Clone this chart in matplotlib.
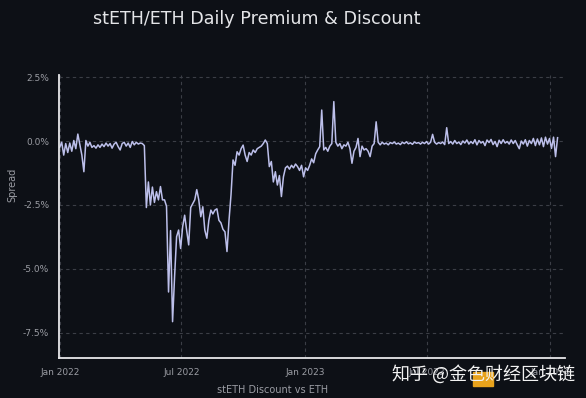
import numpy as np
import pandas as pd
import matplotlib
matplotlib.use('Agg')
import matplotlib.pyplot as plt
import matplotlib.dates as mdates
from matplotlib.patches import Rectangle

spread = [
    -0.25, -0.05, -0.55, -0.10, -0.45, -0.08, -0.40, 0.02, -0.30, 0.27,
    -0.15, -0.55, -1.20, 0.02, -0.20, -0.05, -0.25, -0.18, -0.28, -0.15,
    -0.25, -0.12, -0.22, -0.08, -0.20, -0.10, -0.28, -0.12, -0.05, -0.22,
    -0.35, -0.10, -0.05, -0.20, -0.08, -0.25, -0.02, -0.15, -0.05, -0.12,
    -0.08, -0.10, -0.18, -2.60, -1.60, -2.50, -1.80, -2.40, -1.98, -2.30,
    -1.78, -2.30, -2.30, -2.55, -5.90, -3.50, -7.06, -5.30, -3.74, -3.48,
    -4.20, -3.35, -2.90, -3.50, -4.06, -2.60, -2.45, -2.30, -1.90, -2.30,
    -2.96, -2.57, -3.48, -3.80, -3.10, -2.70, -2.85, -2.70, -2.65, -3.10,
    -3.20, -3.45, -3.55, -4.32, -3.10, -2.10, -0.74, -0.95, -0.42, -0.55,
    -0.30, -0.16, -0.55, -0.80, -0.45, -0.55, -0.35, -0.45, -0.30, -0.25,
    -0.20, -0.10, 0.04, -0.10, -1.00, -0.80, -1.60, -1.20, -1.72, -1.35,
    -2.17, -1.40, -1.05, -0.98, -1.10, -0.95, -1.05, -0.90, -1.00, -1.15,
    -0.95, -1.40, -1.05, -1.15, -0.95, -0.70, -0.85, -0.50, -0.35, -0.22,
    1.21, -0.35, -0.25, -0.40, -0.20, -0.10, 1.54, -0.05, -0.20, -0.10,
    -0.30, -0.15, -0.20, -0.05, -0.30, -0.87, -0.40, -0.25, 0.10, -0.61,
    -0.20, -0.35, -0.30, -0.40, -0.61, -0.20, -0.10, 0.75, -0.05, -0.15,
    -0.05, -0.12, -0.08, -0.15, -0.06, -0.10, -0.04, -0.12, -0.08, -0.14,
    -0.05, -0.10, -0.03, -0.11, -0.07, -0.13, -0.04, -0.09, -0.06, -0.12,
    -0.05, -0.10, -0.02, -0.12, -0.05, 0.26, -0.05, -0.12, -0.06, -0.10,
    -0.04, -0.14, 0.52, -0.10, -0.02, -0.12, 0.02, -0.10, -0.04, -0.14,
    0.00, -0.08, 0.04, -0.12, -0.02, -0.10, 0.05, -0.15, 0.02, -0.08,
    -0.02, -0.18, 0.04, -0.06, 0.06, -0.14, -0.02, -0.22, 0.03, -0.10,
    0.05, -0.08, -0.02, -0.12, 0.04, -0.10, 0.02, -0.15, -0.30, 0.00,
    -0.12, 0.05, -0.20, 0.02, -0.10, 0.10, -0.18, 0.08, -0.15, 0.12,
    -0.22, 0.15, -0.12, 0.10, -0.29, 0.15, -0.61, 0.13,
]
start_date = '2022-01-01'
dates = pd.date_range(start_date, periods=len(spread), freq='3D')

y_ticks = [2.5, 0.0, -2.5, -5.0, -7.5]

bg = '#0d1016'
line_color = '#bcbfea'
text_color = '#9a9ca3'

fig = plt.figure(figsize=(5.86, 3.98), dpi=100, facecolor=bg)
ax = fig.add_axes([0.1007, 0.1005, 0.8634, 0.7111])
ax.set_facecolor(bg)

ax.plot(dates, spread, color=line_color, linewidth=1.1)

ax.set_xlim(pd.Timestamp('2021-12-31'), pd.Timestamp('2024-01-23'))
ax.set_ylim(-8.48, 2.58)
ax.set_yticks(y_ticks)
ax.set_yticklabels([f'{v:.1f}%' for v in y_ticks])
ax.xaxis.set_major_locator(mdates.MonthLocator(bymonth=[1, 7]))
ax.xaxis.set_major_formatter(mdates.DateFormatter('%b %Y'))

ax.grid(True, color='#3b3e46', linestyle=(0, (3, 3)), linewidth=0.8)
ax.tick_params(length=0, colors=text_color, labelsize=6.5, pad=7)
for side in ['top', 'right']:
    ax.spines[side].set_visible(False)
for side in ['left', 'bottom']:
    ax.spines[side].set_color('#e8e8ea')
    ax.spines[side].set_linewidth(1.3)

ax.set_ylabel('Spread', color=text_color, fontsize=7)
ax.yaxis.set_label_coords(-0.083, 0.61)
ax.set_xlabel('stETH Discount vs ETH', color=text_color, fontsize=7)
ax.xaxis.set_label_coords(0.423, -0.095)

fig.text(257 / 586, 1 - 19 / 398, 'stETH/ETH Daily Premium & Discount',
         color='#e4e5e8', fontsize=12.6, ha='center', va='center')

# zhihu watermark
fig.patches.append(Rectangle((473 / 586, 1 - 386 / 398), 20 / 586, 14 / 398,
                             transform=fig.transFigure, color='#e8a21c', zorder=1))
fig.text(392 / 586, 1 - 374 / 398, '知乎 @金色财经区块链',
         family=['Noto Sans CJK SC', 'DejaVu Sans'],
         color='#f2f2f2', fontsize=13, ha='left', va='center', zorder=2)

fig.savefig('out.png', dpi=100, facecolor=bg)
